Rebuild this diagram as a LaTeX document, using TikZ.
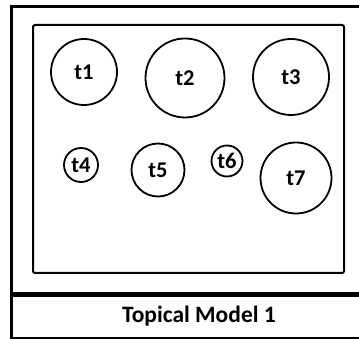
\documentclass[tikz,border=0pt]{standalone}
\usepackage{fontspec}
\setmainfont{Carlito}
\begin{document}
\begin{tikzpicture}[
    x=1pt, y=-1pt,
    topic/.style={circle, draw, line width=1.8pt, minimum size=#1, inner sep=0pt,
                  font=\fontsize{22.5}{26}\selectfont\bfseries},
    label/.style={font=\fontsize{23.5}{28}\selectfont\bfseries},
]
\useasboundingbox (0,0) rectangle (359,339);
\clip (0,0) rectangle (359,339);
% outer frame and caption bar
\draw[line width=3pt] (11,7) rectangle (385,338);
\draw[line width=5pt] (11,295) -- (385,295);
\draw[line width=2pt, rounded corners=2pt] (33,25) rectangle (344,273);
% topics
\node[topic=66pt] (t1) at (84,72)  {t1};
\node[topic=79pt] (t2) at (185,78) {t2};
\node[topic=76pt] (t3) at (291,77) {t3};
\node[topic=34pt] (t4) at (81,165) {t4};
\node[topic=53pt] (t5) at (158,170) {t5};
\node[topic=31pt] (t6) at (227,161) {t6};
\node[topic=71pt] (t7) at (296,178) {t7};
\node[label] (title) at (199,316) {Topical Model 1};
\end{tikzpicture}
\end{document}
